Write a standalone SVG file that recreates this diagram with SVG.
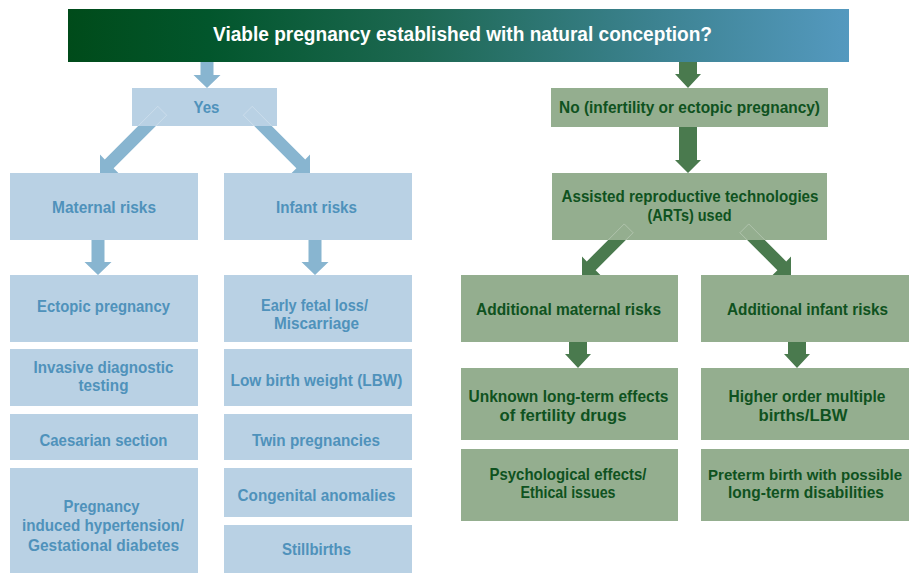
<svg xmlns="http://www.w3.org/2000/svg" width="909" height="573" viewBox="0 0 909 573">
<defs>
<linearGradient id="bannerGrad" x1="0" y1="0" x2="1" y2="0">
<stop offset="0" stop-color="#004b1a"/>
<stop offset="0.18" stop-color="#02562c"/>
<stop offset="0.45" stop-color="#1d6852"/>
<stop offset="0.75" stop-color="#3c8290"/>
<stop offset="1" stop-color="#5499bf"/>
</linearGradient>
<path id="diagBlue" d="M-6.25,-88 H6.25 V-13 H13 L0,0 L-13,-13 H-6.25 Z"/>
<path id="diagGreen" d="M-6.25,-66 H6.25 V-13 H13 L0,0 L-13,-13 H-6.25 Z"/>
<path id="shaftBlue" d="M-6.25,-88 H6.25 V-13 H-6.25 Z"/>
<path id="shaftGreen" d="M-6.25,-66 H6.25 V-13 H-6.25 Z"/>
<clipPath id="clipYes"><rect x="132" y="88" width="145" height="38"/></clipPath>
<clipPath id="clipArt"><rect x="552" y="173" width="275" height="67"/></clipPath>
</defs>
<style>
.bbox{fill:#b9d1e4;}
.gbox{fill:#94ae8f;}
.barrow{fill:#88b5d0;}
.garrow{fill:#4a7a4e;}
.outline{fill:none;stroke:#ffffff;stroke-width:0.7;stroke-opacity:0.35;}
text{font-family:"Liberation Sans",Arial,sans-serif;font-weight:bold;font-size:17px;text-anchor:middle;}
.bt{fill:#4f92bb;}
.gt{fill:#0f5220;}
.ht{fill:#ffffff;font-size:20px;}
.sm{font-size:15.5px;}
</style>

<g id="connectors">
<path class="barrow" d="M200.5,62 H213.5 V75 H220.5 L207,88 L193.5,75 H200.5 Z"/>
<use href="#diagBlue" class="barrow" transform="translate(100,173) rotate(45)"/>
<use href="#diagBlue" class="barrow" transform="translate(310,173) rotate(-45)"/>
<path class="barrow" d="M91.5,240 H104.5 V262 H111.5 L98,275 L84.5,262 H91.5 Z"/>
<path class="barrow" d="M308.5,240 H321.5 V262 H328.5 L315,275 L301.5,262 H308.5 Z"/>
<path class="garrow" d="M679,62 H697 V74 H701 L688,88 L675,74 H679 Z"/>
<path class="garrow" d="M679,127 H697 V160 H701 L688,173 L675,160 H679 Z"/>
<use href="#diagGreen" class="garrow" transform="translate(582,275) rotate(45)"/>
<use href="#diagGreen" class="garrow" transform="translate(791,275) rotate(-45)"/>
<path class="garrow" d="M569,342 H587 V354 H591 L578,368 L565,354 H569 Z"/>
<path class="garrow" d="M788,342 H806 V354 H810 L797,368 L784,354 H788 Z"/>
</g>

<g id="banner">
<rect x="68" y="9" width="781" height="53" fill="url(#bannerGrad)"/>
<text class="ht" x="462.5" y="41" textLength="499" lengthAdjust="spacingAndGlyphs">Viable pregnancy established with natural conception?</text>
</g>

<g id="yes">
<rect class="bbox" x="132" y="88" width="145" height="38"/>
<text class="bt" x="206.5" y="113" textLength="26" lengthAdjust="spacingAndGlyphs">Yes</text>
</g>
<g id="maternal-risks">
<rect class="bbox" x="10" y="173" width="188" height="67"/>
<text class="bt" x="104" y="213" textLength="104" lengthAdjust="spacingAndGlyphs">Maternal risks</text>
</g>
<g id="infant-risks">
<rect class="bbox" x="224" y="173" width="188" height="67"/>
<text class="bt" x="316.5" y="213" textLength="81" lengthAdjust="spacingAndGlyphs">Infant risks</text>
</g>
<g id="ectopic">
<rect class="bbox" x="10" y="275" width="188" height="67"/>
<text class="bt" x="103.5" y="311.5" textLength="133" lengthAdjust="spacingAndGlyphs">Ectopic pregnancy</text>
</g>
<g id="early-fetal-loss">
<rect class="bbox" x="224" y="275" width="188" height="67"/>
<text class="bt" x="314.5" y="311" textLength="107" lengthAdjust="spacingAndGlyphs">Early fetal loss/</text>
<text class="bt" x="316.5" y="329" textLength="85" lengthAdjust="spacingAndGlyphs">Miscarriage</text>
</g>
<g id="invasive">
<rect class="bbox" x="10" y="349" width="188" height="57"/>
<text class="bt" x="103.5" y="373" textLength="140" lengthAdjust="spacingAndGlyphs">Invasive diagnostic</text>
<text class="bt" x="103.5" y="391" textLength="50" lengthAdjust="spacingAndGlyphs">testing</text>
</g>
<g id="lbw">
<rect class="bbox" x="224" y="349" width="188" height="57"/>
<text class="bt" x="316.5" y="386" textLength="172" lengthAdjust="spacingAndGlyphs">Low birth weight (LBW)</text>
</g>
<g id="caesarian">
<rect class="bbox" x="10" y="414" width="188" height="46"/>
<text class="bt" x="103.5" y="446" textLength="128" lengthAdjust="spacingAndGlyphs">Caesarian section</text>
</g>
<g id="twin">
<rect class="bbox" x="224" y="414" width="188" height="46"/>
<text class="bt" x="316" y="446" textLength="128" lengthAdjust="spacingAndGlyphs">Twin pregnancies</text>
</g>
<g id="hypertension">
<rect class="bbox" x="10" y="468" width="188" height="105"/>
<text class="bt" x="101.5" y="512" textLength="76" lengthAdjust="spacingAndGlyphs">Pregnancy</text>
<text class="bt" x="103" y="531" textLength="162" lengthAdjust="spacingAndGlyphs">induced hypertension/</text>
<text class="bt" x="103.5" y="550.5" textLength="151" lengthAdjust="spacingAndGlyphs">Gestational diabetes</text>
</g>
<g id="congenital">
<rect class="bbox" x="224" y="468" width="188" height="49"/>
<text class="bt" x="316.5" y="500.5" textLength="158" lengthAdjust="spacingAndGlyphs">Congenital anomalies</text>
</g>
<g id="stillbirths">
<rect class="bbox" x="224" y="525" width="188" height="48"/>
<text class="bt" x="316.5" y="555" textLength="69" lengthAdjust="spacingAndGlyphs">Stillbirths</text>
</g>

<g id="no">
<rect class="gbox" x="551" y="88" width="277" height="39"/>
<text class="gt" x="689.5" y="113" textLength="261" lengthAdjust="spacingAndGlyphs">No (infertility or ectopic pregnancy)</text>
</g>
<g id="arts">
<rect class="gbox" x="552" y="173" width="275" height="67"/>
<text class="gt" x="690" y="202" textLength="257" lengthAdjust="spacingAndGlyphs">Assisted reproductive technologies</text>
<text class="gt" x="689.5" y="220.5" textLength="84" lengthAdjust="spacingAndGlyphs">(ARTs) used</text>
</g>
<g id="additional-maternal">
<rect class="gbox" x="461" y="275" width="217" height="67"/>
<text class="gt" x="568.5" y="314.5" textLength="185" lengthAdjust="spacingAndGlyphs">Additional maternal risks</text>
</g>
<g id="additional-infant">
<rect class="gbox" x="701" y="275" width="208" height="67"/>
<text class="gt" x="807.5" y="314.5" textLength="161" lengthAdjust="spacingAndGlyphs">Additional infant risks</text>
</g>
<g id="unknown-effects">
<rect class="gbox" x="461" y="368" width="217" height="72"/>
<text class="gt" x="568.5" y="402" textLength="200" lengthAdjust="spacingAndGlyphs">Unknown long-term effects</text>
<text class="gt" x="563" y="420.5" textLength="127" lengthAdjust="spacingAndGlyphs">of fertility drugs</text>
</g>
<g id="higher-order">
<rect class="gbox" x="701" y="368" width="208" height="72"/>
<text class="gt" x="807" y="402" textLength="157" lengthAdjust="spacingAndGlyphs">Higher order multiple</text>
<text class="gt" x="803" y="420.5" textLength="89" lengthAdjust="spacingAndGlyphs">births/LBW</text>
</g>
<g id="psychological">
<rect class="gbox" x="461" y="449" width="217" height="72"/>
<text class="gt" x="568" y="479.5" textLength="157" lengthAdjust="spacingAndGlyphs">Psychological effects/</text>
<text class="gt" x="568" y="498" textLength="95" lengthAdjust="spacingAndGlyphs">Ethical issues</text>
</g>
<g id="preterm">
<rect class="gbox" x="701" y="449" width="208" height="72"/>
<text class="gt sm" x="805" y="479.5" textLength="194" lengthAdjust="spacingAndGlyphs">Preterm birth with possible</text>
<text class="gt" x="806" y="498" textLength="156" lengthAdjust="spacingAndGlyphs">long-term disabilities</text>
</g>

<g id="connector-outlines">
<g clip-path="url(#clipYes)">
<use href="#shaftBlue" class="outline" transform="translate(100,173) rotate(45)"/>
<use href="#shaftBlue" class="outline" transform="translate(310,173) rotate(-45)"/>
</g>
<g clip-path="url(#clipArt)">
<use href="#shaftGreen" class="outline" transform="translate(582,275) rotate(45)"/>
<use href="#shaftGreen" class="outline" transform="translate(791,275) rotate(-45)"/>
</g>
</g>
</svg>
